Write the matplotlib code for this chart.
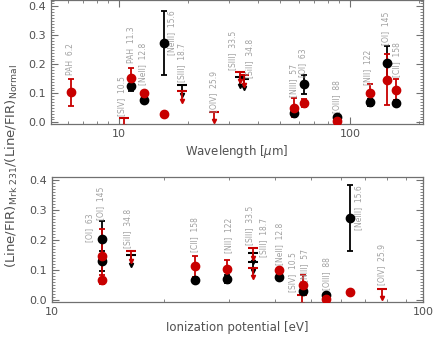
import numpy as np
import matplotlib
matplotlib.use('Agg')
import matplotlib.pyplot as plt
from matplotlib.ticker import MultipleLocator, LogLocator, FixedLocator, NullFormatter

nan = np.nan

# line identifications
names = ['PAH', '[SIV]', 'PAH', '[NeII]', '[NeIII]', '[SIII]', '[OIV]', '[SIII]',
         '[SiII]', '[NIII]', '[OI]', '[OIII]', '[NII]', '[OI]', '[CII]']
wavelength = [6.2, 10.5, 11.3, 12.8, 15.6, 18.7, 25.9, 33.5, 34.8, 57, 63, 88, 122, 145, 158]
ion_pot = [nan, 47.2, nan, 40.96, 63.45, 34.79, 77.41, 34.79, 16.35, 47.45, 13.62, 54.93,
           29.6, 13.62, 24.38]

# black series
black_val = [nan, nan, 0.127, 0.077, 0.273, 0.128, nan, 0.158, 0.150, 0.031, 0.131, 0.018,
             0.070, 0.203, 0.068]
black_err = [nan, nan, 0.020, 0.008, 0.110, 0, nan, 0, 0, 0.008, 0.033, 0, 0.012, 0.060, 0.010]
black_ul = [False, False, False, False, False, True, False, True, True, False, False, False,
            False, False, False]

# red series
red_val = [0.103, 0.016, 0.153, 0.100, 0.028, 0.107, 0.037, 0.173, 0.162, 0.050, 0.068, 0.004,
           0.102, 0.147, 0.113]
red_err = [0.048, 0, 0.035, 0.006, 0, 0, 0, 0, 0, 0.033, 0.014, 0, 0.030, 0.088, 0.035]
red_ul = [False, True, False, False, False, True, True, True, True, False, False, False,
          False, False, False]

# label anchors (layout only)
lab_top = [(6.2, 0.164), (10.3, 0.022), (11.3, 0.205), (12.7, 0.129), (16.9, 0.233),
           (18.7, 0.140), (25.7, 0.036), (31.2, 0.181), (36.9, 0.153), (57, 0.088),
           (62.7, 0.157), (87.9, 0.033), (119.7, 0.129), (143, 0.267), (159.6, 0.157)]
lab_bot = [None, (44.6, 0.028), None, (41, 0.117), (67, 0.233), (37.2, 0.144), (77.4, 0.05),
           (34.2, 0.183), (16.0, 0.172), (48.1, 0.061), (12.6, 0.194), (55, 0.033),
           (29.9, 0.156), (13.5, 0.267), (24.3, 0.161)]

RED = '#c80000'
AXC = '#707070'
LABC = '#a0a0a0'
TXT = '#505050'


def draw_series(ax, xs, vals, errs, uls, color):
    for x, v, e, ul in zip(xs, vals, errs, uls):
        if np.isnan(x) or np.isnan(v):
            continue
        if ul:
            ax.plot([x, x], [v, v - 0.032], color=color, lw=1.3, zorder=3)
            ax.plot(x, v, marker='_', ms=7, mew=1.5, color=color, zorder=3)
            ax.plot(x, v - 0.032, marker='v', ms=3, color=color, zorder=3)
        else:
            ax.errorbar(x, v, yerr=e if e > 0 else None, fmt='o', ms=6, color=color,
                        ecolor=color, elinewidth=1.3, capsize=2, capthick=1.3, zorder=3)


def style(ax):
    for s in ax.spines.values():
        s.set_color(AXC)
        s.set_linewidth(0.9)
    ax.set_xscale('log')
    ax.yaxis.set_major_locator(MultipleLocator(0.1))
    ax.yaxis.set_minor_locator(MultipleLocator(0.01))
    ax.xaxis.set_minor_locator(LogLocator(base=10, subs=np.arange(2, 10)))
    ax.xaxis.set_minor_formatter(NullFormatter())
    ax.tick_params(which='both', direction='in', top=True, right=True, colors=AXC,
                   labelcolor=TXT, labelsize=8)
    ax.tick_params(which='major', length=5, width=0.8)
    ax.tick_params(which='minor', length=2.5, width=0.6)
    ax.yaxis.set_major_formatter(matplotlib.ticker.FormatStrFormatter('%.1f'))


fig = plt.figure(figsize=(4.36, 3.39), dpi=100)
ax1 = fig.add_axes([0.117, 0.634, 0.853, 0.366])
ax2 = fig.add_axes([0.119, 0.109, 0.851, 0.369])

# top: wavelength
style(ax1)
draw_series(ax1, wavelength, black_val, black_err, black_ul, 'black')
draw_series(ax1, wavelength, red_val, red_err, red_ul, RED)
for n, w, pos in zip(names, wavelength, lab_top):
    ax1.text(pos[0], pos[1], f'{n}  {w:g}', rotation=90, ha='center', va='bottom',
             color=LABC, fontsize=5.5)
ax1.set_xlim(5.08, 207)
ax1.set_ylim(-0.006, 0.422)
ax1.xaxis.set_major_locator(FixedLocator([10, 100]))
ax1.set_xticklabels(['10', '100'])
ax1.set_xlabel(r'Wavelength [$\mu$m]', fontsize=8.5, color=TXT, labelpad=3)

# bottom: ionization potential
style(ax2)
draw_series(ax2, ion_pot, black_val, black_err, black_ul, 'black')
draw_series(ax2, ion_pot, red_val, red_err, red_ul, RED)
for n, w, pos in zip(names, wavelength, lab_bot):
    if pos is None:
        continue
    ax2.text(pos[0], pos[1], f'{n}  {w:g}', rotation=90, ha='center', va='bottom',
             color=LABC, fontsize=5.5)
ax2.set_xlim(10, 100)
ax2.set_ylim(-0.007, 0.41)
ax2.xaxis.set_major_locator(FixedLocator([10, 100]))
ax2.set_xticklabels(['10', '100'])
ax2.set_xlabel('Ionization potential [eV]', fontsize=8.5, color=TXT, labelpad=3)

fig.text(0.028, 0.51, r'(Line/FIR)$_{\mathrm{Mrk\ 231}}$/(Line/FIR)$_{\mathrm{Normal}}$',
         rotation=90, ha='center', va='center', fontsize=9.5, color=TXT)

fig.savefig('out.png', dpi=100)
